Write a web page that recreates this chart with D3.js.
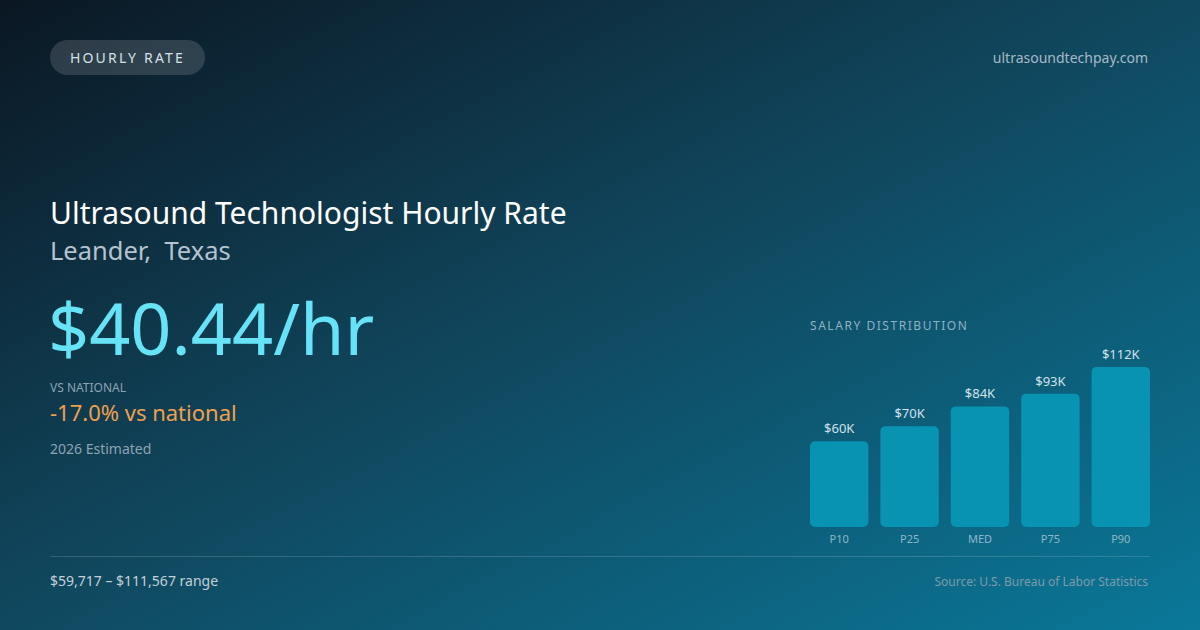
<!DOCTYPE html>
<html><head><meta charset="utf-8">
<script src="https://cdn.jsdelivr.net/npm/d3@7"></script>
<style>
html,body{margin:0;padding:0;background:#0f2232;}
svg{display:block;font-family:"Noto Sans","Open Sans",sans-serif;}
</style></head>
<body>
<svg id="c" width="1200" height="630"></svg>
<script>
const categories = ["P10","P25","MED","P75","P90"];
const values = [59717, 70200, 84100, 93000, 111567];
const valueLabels = ["$60K","$70K","$84K","$93K","$112K"];
const badgeText = "HOURLY RATE";
const siteText = "ultrasoundtechpay.com";
const titleText = "Ultrasound Technologist Hourly Rate";
const locationText = "Leander,\u00a0 Texas";
const rateText = "$40.44/hr";
const vsLabel = "VS NATIONAL";
const vsText = "-17.0% vs national";
const yearText = "2026 Estimated";
const rangeText = "$59,717 \u2013 $111,567 range";
const sourceText = "Source: U.S. Bureau of Labor Statistics";
const chartTitle = "SALARY DISTRIBUTION";

const svg = d3.select("#c");
const W = 1200, H = 630;
const defs = svg.append("defs");
const g = defs.append("linearGradient").attr("id","bg")
  .attr("x1","0").attr("y1","0").attr("x2","1").attr("y2","1");
g.append("stop").attr("offset","0%").attr("stop-color","#0b1723");
g.append("stop").attr("offset","45%").attr("stop-color","#10445a");
g.append("stop").attr("offset","100%").attr("stop-color","#0a7899");
svg.append("rect").attr("width",W).attr("height",H).attr("fill","url(#bg)");

// badge
svg.append("rect").attr("x",50).attr("y",40).attr("width",155).attr("height",35).attr("rx",17.5)
  .attr("fill","rgba(255,255,255,0.14)");
svg.append("text").attr("x",127.5).attr("y",63).attr("text-anchor","middle")
  .attr("font-size",14).attr("letter-spacing",2.2).attr("fill","#d5e0e8").text(badgeText);
svg.append("text").attr("x",1148).attr("y",63).attr("text-anchor","end")
  .attr("font-size",14).attr("fill","#a6b9c6").text(siteText);

svg.append("text").attr("x",50).attr("y",224).attr("font-size",30).attr("fill","#ffffff").text(titleText);
svg.append("text").attr("x",50).attr("y",260).attr("font-size",25.5).attr("fill","#b4c3cf").text(locationText);
svg.append("text").attr("x",48).attr("y",355).attr("font-size",72).attr("fill","#67e3f7").text(rateText);
svg.append("text").attr("x",50).attr("y",392).attr("font-size",12).attr("fill","#8da2b2").text(vsLabel);
svg.append("text").attr("x",50).attr("y",421).attr("font-size",22).attr("fill","#f0a04e").text(vsText);
svg.append("text").attr("x",50).attr("y",454).attr("font-size",14).attr("fill","#8ea3b2").text(yearText);

svg.append("line").attr("x1",50).attr("x2",1150).attr("y1",556.5).attr("y2",556.5)
  .attr("stroke","rgba(255,255,255,0.15)");
svg.append("text").attr("x",50).attr("y",586).attr("font-size",14).attr("fill","#c4d0d8").text(rangeText);
svg.append("text").attr("x",1148).attr("y",586).attr("text-anchor","end")
  .attr("font-size",12).attr("fill","#7f9aab").text(sourceText);

// chart
svg.append("text").attr("x",810).attr("y",330).attr("font-size",12).attr("letter-spacing",1.55)
  .attr("fill","#8fb2c2").text(chartTitle);
const x = d3.scaleBand().domain(categories).range([810,1150]).paddingInner(0.17).paddingOuter(0);
const y = d3.scaleLinear().domain([0, d3.max(values)]).range([527,367]);
const data = categories.map((c,i)=>({c, v:values[i], l:valueLabels[i]}));
svg.append("g").selectAll("rect").data(data).join("rect")
  .attr("x",d=>x(d.c)).attr("y",d=>y(d.v)).attr("width",x.bandwidth())
  .attr("height",d=>y(0)-y(d.v)).attr("rx",5).attr("fill","#0896b5").attr("fill-opacity",0.95);
svg.append("g").selectAll("text").data(data).join("text")
  .attr("x",d=>x(d.c)+x.bandwidth()/2).attr("y",d=>y(d.v)-8).attr("text-anchor","middle")
  .attr("font-size",13).attr("fill","#d0e2ea").text(d=>d.l);
const ax = svg.append("g").attr("transform","translate(0,527)").call(d3.axisBottom(x).tickSize(0).tickPadding(8));
ax.select(".domain").remove();
ax.selectAll("text").attr("font-size",11).attr("fill","#8fb6c6").attr("font-family","'Noto Sans','Open Sans',sans-serif");
</script>
</body></html>
